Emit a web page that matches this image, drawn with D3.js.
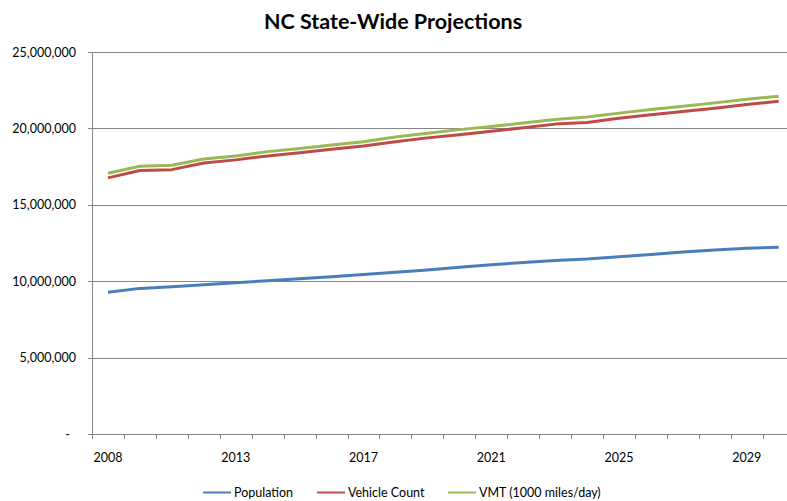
<!DOCTYPE html>
<html>
<head>
<meta charset="utf-8">
<script src="https://cdn.jsdelivr.net/npm/d3@7"></script>
<style>
  body { margin: 0; background: #fff; }
  svg text { font-family: Lato, "Open Sans", sans-serif; fill: #000; }
</style>
</head>
<body>
<div id="chart"></div>
<script>
var years = ['2008', '2010', '2011', '2012', '2013', '2014', '2015', '2016', '2017', '2018', '2019',
             '2020', '2021', '2022', '2023', '2024', '2025', '2026', '2027', '2028', '2029', '2030'];

var population = [9.27, 9.53, 9.63, 9.76, 9.90, 10.03, 10.16, 10.29, 10.44, 10.58, 10.74,
                  10.92, 11.07, 11.23, 11.36, 11.45, 11.60, 11.75, 11.91, 12.04, 12.15, 12.22];
var vehicles   = [16.76, 17.24, 17.30, 17.74, 17.94, 18.20, 18.41, 18.63, 18.85, 19.13, 19.38,
                  19.59, 19.81, 20.05, 20.28, 20.38, 20.67, 20.90, 21.10, 21.32, 21.56, 21.78];
var vmt        = [17.06, 17.52, 17.59, 18.00, 18.20, 18.48, 18.68, 18.92, 19.13, 19.44, 19.68,
                  19.92, 20.12, 20.36, 20.58, 20.75, 21.00, 21.23, 21.45, 21.67, 21.91, 22.11];

var yTicks = [0, 5e6, 10e6, 15e6, 20e6, 25e6];

var seriesNames  = ['Population', 'Vehicle Count', 'VMT (1000 miles/day)'];
var seriesColors = ['#4a7ebb', '#be4b48', '#98b954'];
var seriesValues = [population, vehicles, vmt];

var width   = 787,
    height  = 501,
    left    = 92,
    plotTop = 52,
    bottom  = 434,
    step    = 31.94;

var svg = d3.select('#chart').append('svg')
    .attr('width', width)
    .attr('height', height);

var x = d3.scaleBand()
    .domain(years)
    .range([left, left + step * years.length]);

var y = d3.scaleLinear()
    .domain([0, 25e6])
    .range([bottom, plotTop]);

// title
svg.append('text')
    .attr('x', 393)
    .attr('y', 29)
    .attr('text-anchor', 'middle')
    .style('font-size', '21.5px')
    .style('font-weight', 'bold')
    .text('NC State-Wide Projections');

// gridlines
svg.append('g')
    .selectAll('line')
    .data(yTicks.slice(1))
    .enter().append('line')
    .attr('x1', left)
    .attr('x2', width)
    .attr('y1', function(d) { return Math.round(y(d)) + 0.5; })
    .attr('y2', function(d) { return Math.round(y(d)) + 0.5; })
    .style('stroke', '#868686')
    .style('stroke-width', 1);

// y axis
var yAxis = svg.append('g');
yAxis.append('line')
    .attr('x1', left + 0.5).attr('x2', left + 0.5)
    .attr('y1', plotTop).attr('y2', bottom + 0.5)
    .style('stroke', '#868686');
yAxis.selectAll('.tick')
    .data(yTicks)
    .enter().append('line')
    .attr('x1', left - 4).attr('x2', left)
    .attr('y1', function(d) { return Math.round(y(d)) + 0.5; })
    .attr('y2', function(d) { return Math.round(y(d)) + 0.5; })
    .style('stroke', '#868686');
yAxis.selectAll('text')
    .data(yTicks)
    .enter().append('text')
    .attr('x', function(d) { return d === 0 ? 70 : 76; })
    .attr('y', function(d) { return y(d) + 4.5; })
    .attr('text-anchor', 'end')
    .style('font-size', '12.5px')
    .text(function(d) { return d === 0 ? '-' : d3.format(',')(d); });

// x axis
var xAxis = svg.append('g');
xAxis.append('line')
    .attr('x1', left - 4).attr('x2', width)
    .attr('y1', bottom + 0.5).attr('y2', bottom + 0.5)
    .style('stroke', '#868686');
xAxis.selectAll('.tick')
    .data(years)
    .enter().append('line')
    .attr('x1', function(d) { return Math.round(x(d)) + 0.5; })
    .attr('x2', function(d) { return Math.round(x(d)) + 0.5; })
    .attr('y1', bottom)
    .attr('y2', bottom + 5)
    .style('stroke', '#868686');
xAxis.selectAll('text')
    .data(years.filter(function(d, i) { return i % 4 === 0; }))
    .enter().append('text')
    .attr('x', function(d) { return x(d) + x.bandwidth() / 2; })
    .attr('y', 461.5)
    .attr('text-anchor', 'middle')
    .style('font-size', '12.5px')
    .text(function(d) { return d; });

// series lines
var line = d3.line()
    .x(function(d, i) { return x(years[i]) + x.bandwidth() / 2; })
    .y(function(d) { return y(d * 1e6); });

seriesValues.forEach(function(vals, i) {
    svg.append('path')
        .datum(vals)
        .attr('d', line)
        .style('fill', 'none')
        .style('stroke', seriesColors[i])
        .style('stroke-width', 3)
        .style('stroke-linejoin', 'round');
});

// legend
var legendX = [203, 317, 448];
var legend = svg.append('g');
seriesNames.forEach(function(name, i) {
    legend.append('line')
        .attr('x1', legendX[i]).attr('x2', legendX[i] + 28)
        .attr('y1', 492.5).attr('y2', 492.5)
        .style('stroke', seriesColors[i])
        .style('stroke-width', 2);
    legend.append('text')
        .attr('x', legendX[i] + 31)
        .attr('y', 496.5)
        .style('font-size', '12.5px')
        .text(name);
});
</script>
</body>
</html>
